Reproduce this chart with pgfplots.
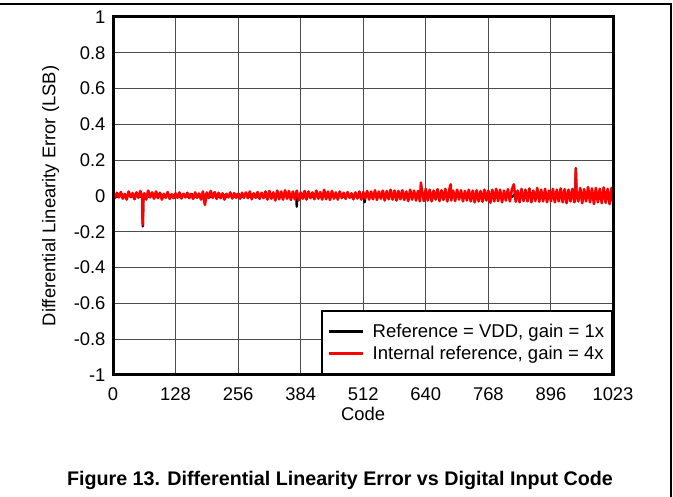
\documentclass[border=0pt]{standalone}
\usepackage{pgfplots}
\pgfplotsset{compat=1.18}
\usepackage{fontspec}
\setmainfont{Liberation Sans}

\begin{document}
\begin{tikzpicture}[x=1pt,y=1pt]
\useasboundingbox (0,0) rectangle (673,497);
\draw[line width=1.2pt] (0,493) -- (671,493) -- (671,0);
\begin{axis}[
    at={(113pt,122pt)}, anchor=south west,
    scale only axis, width=500pt, height=358pt,
    xmin=0, xmax=1023, ymin=-1, ymax=1,
    xtick={0,128,256,384,512,640,768,896,1023},
    ytick={-1,-0.8,-0.6,-0.4,-0.2,0,0.2,0.4,0.6,0.8,1},
    x tick label style={/pgf/number format/set thousands separator={}},
    grid=major,
    major grid style={black!70, line width=1pt},
    major tick length=0pt,
    tick label style={font=\fontsize{18.4}{20}\selectfont},
    yticklabel style={xshift=-4pt},
    xticklabel style={yshift=-9pt},
    /pgf/number format/assume math mode=true,
    xlabel={Code},
    ylabel={Differential Linearity Error (LSB)},
    label style={font=\fontsize{18.4}{20}\selectfont},
    xlabel style={at={(axis description cs:0.5,-0.109)}, anchor=center},
    ylabel style={at={(axis description cs:-0.125,0.5)}, anchor=center},
    legend style={at={(1,0)}, anchor=south east, draw=black, line width=1.8pt,
        fill=white, font=\fontsize{18.5}{22}\selectfont,
        inner xsep=6pt, inner ysep=11pt, row sep=3pt, column sep=6pt,
        cells={anchor=west}},
    extra description/.code={
        \draw[line width=3pt] (rel axis cs:0,0) rectangle (rel axis cs:1,1);},
  ]

  % Reference = VDD, gain = 1x
  \addplot[draw=black, line width=2.4pt, line join=round,
    legend image code/.code={\draw[draw=black, line width=3pt] (0pt,0pt) -- (34pt,0pt);}]
    coordinates {
    (0,0.008)(8,-0.005)(16,0.012)(24,-0.006)(32,0.010)(40,-0.004)(48,0.012)(56,-0.005)
    (60,0.0)(61,-0.170)(62,0.0)(64,0.010)(72,-0.006)(80,0.015)(88,-0.004)(96,0.012)
    (104,-0.006)(112,0.010)(120,-0.005)(128,0.012)(136,-0.006)(144,0.010)(152,-0.004)
    (160,0.012)(168,-0.006)(176,0.010)(184,-0.005)(192,0.012)(200,-0.006)(208,0.010)
    (216,-0.005)(224,0.012)(232,-0.006)(240,0.010)(248,-0.004)(256,0.012)(264,-0.006)
    (272,0.014)(280,-0.005)(288,0.010)(296,-0.006)(304,0.012)(312,-0.005)(320,0.010)
    (328,-0.006)(336,0.012)(344,-0.005)(352,0.010)(360,-0.006)(368,0.012)(375,0.0)
    (376,-0.060)(377,0.0)(384,0.010)(392,-0.006)(400,0.012)(408,-0.005)(416,0.010)
    (424,-0.006)(432,0.012)(440,-0.005)(448,0.010)(456,-0.006)(464,0.012)(472,-0.005)
    (480,0.010)(488,-0.006)(496,0.012)(504,-0.005)(514,0.0)(515,-0.035)(516,0.0)
    (520,0.010)(528,-0.006)(536,0.012)(544,-0.005)(552,0.010)(560,-0.006)(568,0.012)
    (576,-0.005)(584,0.010)(592,-0.006)(600,0.012)(608,-0.005)(616,0.010)(624,-0.006)
    (632,0.012)(640,-0.005)(648,0.010)(656,-0.006)(664,0.012)(672,-0.005)(680,0.010)
    (688,-0.006)(696,0.012)(704,-0.005)(712,0.010)(720,-0.006)(728,0.012)(736,-0.005)
    (744,0.010)(752,-0.006)(760,0.012)(768,-0.005)(776,0.010)(784,-0.006)(792,0.012)
    (800,-0.005)(808,0.010)(816,-0.006)(824,0.012)(832,-0.005)(840,0.010)(848,-0.006)
    (856,0.012)(864,-0.005)(872,0.010)(880,-0.006)(888,0.012)(896,-0.005)(904,0.010)
    (912,-0.006)(920,0.012)(928,-0.005)(936,0.010)(944,-0.006)(946,0.0)(947,0.155)
    (948,0.0)(952,0.012)(960,-0.005)(968,0.010)(976,-0.006)(984,0.012)(992,-0.005)
    (1000,0.010)(1008,-0.006)(1016,0.012)(1023,-0.005)
  };
  \addlegendentry{Reference = VDD, gain = 1x}

  % Internal reference, gain = 4x
  \addplot[draw=red, line width=2.6pt, line join=round,
    legend image code/.code={\draw[draw=red, line width=2.4pt] (0pt,0pt) -- (34pt,0pt);}]
    coordinates {
    (0,0.005)(4,-0.012)(8,0.018)(12,-0.008)(16,0.022)(20,-0.015)(24,0.012)(28,-0.020)
    (32,0.025)(36,-0.006)(40,0.016)(44,-0.018)(48,0.020)(52,-0.010)(56,0.028)(60,-0.012)
    (61,-0.160)(62,0.0)(64,0.015)(68,-0.020)(72,0.030)(76,-0.008)(80,0.020)(84,-0.015)
    (88,0.025)(92,-0.012)(96,0.018)(100,-0.020)(104,0.012)(108,-0.010)(112,0.022)
    (116,-0.016)(120,0.010)(124,-0.012)
    (128,0.015)(132,-0.010)(136,0.020)(140,-0.014)(144,0.012)(148,-0.008)(152,0.018)
    (156,-0.012)(160,0.010)(164,-0.016)(168,0.020)(172,-0.010)(176,0.014)(180,-0.020)
    (184,0.025)(188,-0.050)(192,0.020)(196,-0.012)(200,0.028)(204,-0.010)(208,0.022)
    (212,-0.016)(216,0.018)(220,-0.012)(224,0.015)(228,-0.020)(232,0.012)(236,-0.008)
    (240,0.020)(244,-0.014)(248,0.016)(252,-0.010)
    (256,0.012)(260,-0.015)(264,0.018)(268,-0.010)(272,0.020)(276,-0.012)(280,0.025)
    (284,-0.018)(288,0.015)(292,-0.010)(296,0.022)(300,-0.016)(304,0.018)(308,-0.012)
    (312,0.025)(316,-0.020)(320,0.028)(324,-0.015)(328,0.020)(332,-0.025)(336,0.030)
    (340,-0.018)(344,0.025)(348,-0.020)(352,0.032)(356,-0.015)(360,0.028)(364,-0.022)
    (368,0.025)(372,-0.018)(376,0.030)(380,-0.025)
    (384,0.020)(388,-0.015)(392,0.028)(396,-0.020)(400,0.025)(404,-0.012)(408,0.020)
    (412,-0.018)(416,0.030)(420,-0.015)(424,0.022)(428,-0.020)(432,0.035)(436,-0.018)
    (440,0.025)(444,-0.022)(448,0.028)(452,-0.015)(456,0.020)(460,-0.020)(464,0.025)
    (468,-0.012)(472,0.018)(476,-0.016)(480,0.022)(484,-0.010)(488,0.015)(492,-0.018)
    (496,0.020)(500,-0.014)(504,0.025)(508,-0.020)
    (512,0.022)(516,-0.015)(520,0.028)(524,-0.020)(528,0.025)(532,-0.018)(536,0.032)
    (540,-0.022)(544,0.025)(548,-0.015)(552,0.030)(556,-0.025)(560,0.028)(564,-0.018)
    (568,0.035)(572,-0.020)(576,0.030)(580,-0.025)(584,0.028)(588,-0.018)(592,0.032)
    (596,-0.022)(600,0.025)(604,-0.028)(608,0.035)(612,-0.020)(616,0.030)(620,-0.025)
    (624,0.028)(628,-0.030)(630,0.075)(632,0.035)(636,-0.028)
    (640,0.040)(644,-0.025)(648,0.035)(652,-0.030)(656,0.030)(660,-0.020)(664,0.038)
    (668,-0.028)(672,0.032)(676,-0.022)(680,0.040)(684,-0.030)(688,0.035)(691,0.065)
    (692,-0.025)(696,0.030)(700,-0.028)(704,0.035)(708,-0.020)(712,0.032)(716,-0.030)
    (720,0.028)(724,-0.025)(728,0.035)(732,-0.030)(736,0.030)(740,-0.035)(744,0.032)
    (748,-0.030)(752,0.028)(756,-0.032)(760,0.035)(764,-0.025)
    (768,0.030)(772,-0.038)(776,0.035)(780,-0.030)(784,0.040)(788,-0.028)(792,0.035)
    (796,-0.035)(800,0.030)(804,-0.025)(808,0.038)(812,-0.030)(816,0.035)(820,0.065)
    (824,-0.032)(828,0.030)(832,-0.035)(836,0.040)(840,-0.028)(844,0.035)(848,-0.030)
    (852,0.042)(856,-0.035)(860,0.030)(864,-0.028)(868,0.045)(872,-0.032)(876,0.035)
    (880,-0.030)(884,0.040)(888,-0.035)(892,0.030)
    (896,-0.030)(900,0.040)(904,-0.035)(908,0.035)(912,-0.030)(916,0.042)(920,-0.035)
    (924,0.038)(928,-0.040)(932,0.035)(936,-0.030)(940,0.040)(944,-0.035)(946,0.0)
    (947,0.150)(948,0.035)(952,-0.030)(956,0.045)(960,-0.040)(964,0.038)(968,-0.030)
    (972,0.050)(976,-0.035)(980,0.042)(984,-0.045)(988,0.045)(992,-0.035)(996,0.040)
    (1000,-0.040)(1004,0.048)(1008,-0.038)(1012,0.040)(1016,-0.045)(1020,0.045)
    (1023,-0.030)
  };
  \addlegendentry{Internal reference, gain = 4x}
\end{axis}
\node[font=\bfseries\fontsize{19.7}{22}\selectfont] at (340,17) {Figure 13. Differential Linearity Error vs Digital Input Code};
\end{tikzpicture}
\end{document}
